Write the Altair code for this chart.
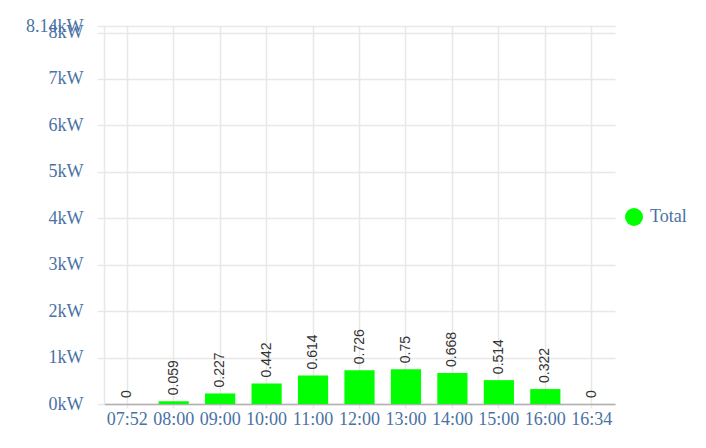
import altair as alt
import pandas as pd

categories = ["07:52", "08:00", "09:00", "10:00", "11:00", "12:00", "13:00", "14:00", "15:00", "16:00", "16:34"]
values = [0, 0.059, 0.227, 0.442, 0.614, 0.726, 0.75, 0.668, 0.514, 0.322, 0]
value_labels = ["0", "0.059", "0.227", "0.442", "0.614", "0.726", "0.75", "0.668", "0.514", "0.322", "0"]
y_ticks = [0, 1, 2, 3, 4, 5, 6, 7, 8, 8.14]
series_name = "Total"

df = pd.DataFrame({"time": categories, "kw": values, "label": value_labels, "series": series_name})

label_color = "#4a72a4"
grid_color = "#e8e8e8"

x_enc = alt.X("time:N", sort=categories,
              scale=alt.Scale(paddingInner=0.35, paddingOuter=0.175),
              axis=alt.Axis(title=None, labelAngle=0, bandPosition=0.5, grid=True,
                            gridColor=grid_color, gridWidth=1.5,
                            domainColor="#b0b0b0", domainWidth=1.5,
                            tickColor=grid_color, tickSize=4, tickWidth=1.5,
                            labelFont="Liberation Serif", labelFontSize=18,
                            labelOverlap=False,
                            labelColor=label_color, labelPadding=2))
y_enc = alt.Y("kw:Q", scale=alt.Scale(domain=[0, 8.14], nice=False),
              axis=alt.Axis(title=None, values=y_ticks, labelExpr="datum.value + 'kW'",
                            labelOverlap=False,
                            grid=True, gridColor=grid_color, gridWidth=1.5,
                            domainColor=grid_color, domainWidth=1.5,
                            tickColor=grid_color, tickSize=7, tickWidth=1.5,
                            labelFont="Liberation Serif", labelFontSize=18,
                            labelColor=label_color, labelPadding=14))

bars = alt.Chart(df).mark_bar().encode(
    x=x_enc, y=y_enc,
    color=alt.Color("series:N", scale=alt.Scale(domain=[series_name], range=["#00ff00"]),
                    legend=alt.Legend(title=None, orient="none", legendX=521, legendY=182,
                                      symbolType="circle", symbolSize=324, symbolStrokeWidth=0,
                                      labelFont="Liberation Serif", labelFontSize=18,
                                      labelColor=label_color, labelOffset=7))
)

texts = alt.Chart(df).mark_text(angle=270, align="left", baseline="middle", dx=6,
                                font="Liberation Sans", fontSize=14, color="#333333").encode(
    x=alt.X("time:N", sort=categories), y=alt.Y("kw:Q"), text="label:N"
)

chart = alt.layer(bars, texts).properties(
    width=511, height=378,
    autosize=alt.AutoSizeParams(type="none"),
    padding={"left": 96, "top": 18, "right": 80, "bottom": 26},
).configure_view(stroke=None)

chart.save("out.html", embed_options={"renderer": "svg", "actions": False})
